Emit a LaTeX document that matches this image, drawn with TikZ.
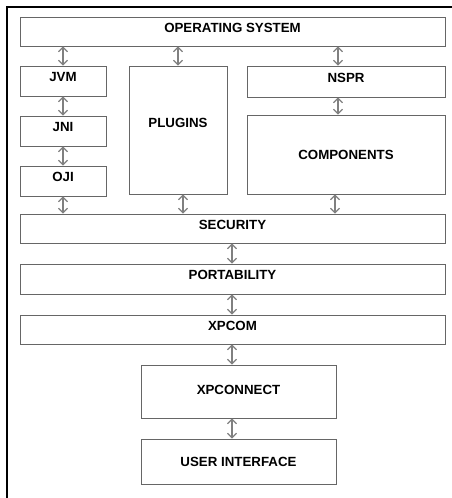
\documentclass[tikz,border=0pt]{standalone}
\usepackage{fontspec}
\setmainfont{Liberation Sans}
\usetikzlibrary{arrows.meta}

\begin{document}
\begin{tikzpicture}[x=1pt,y=-1pt,
		layer/.style={draw=black!60,line width=0.9pt,inner sep=0pt,
			font=\bfseries\fontsize{13.3}{15}\selectfont,
			text height=9.5pt,text depth=8pt},
		link/.style={draw=black!50,line width=1.2pt,
			{Straight Barb[length=4.5pt,width=9pt]}-{Straight Barb[length=4.5pt,width=9pt]}}]
		\useasboundingbox (0,0) rectangle (452,498);
		\draw[line width=2pt] (7,498) -- (7,7) -- (452,7);
		\node[layer,minimum width=425pt,minimum height=29pt](os) at (232.5,31.5){OPERATING SYSTEM};
		\node[layer,minimum width=86pt,minimum height=30pt](jvm) at (63,81){JVM};
		\node[layer,minimum width=86pt,minimum height=30pt](jni) at (63,131){JNI};
		\node[layer,minimum width=86pt,minimum height=30pt](oji) at (63,181){OJI};
		\node[layer,minimum width=98pt,minimum height=128pt,text depth=15pt](plugins) at (178,130){PLUGINS};
		\node[layer,minimum width=198pt,minimum height=31pt](nspr) at (346,81.5){NSPR};
		\node[layer,minimum width=198pt,minimum height=79pt,text depth=0pt](components) at (346,154.5){COMPONENTS};
		\node[layer,minimum width=425pt,minimum height=29pt](security) at (232.5,228.5){SECURITY};
		\node[layer,minimum width=425pt,minimum height=30pt](portability) at (232.5,279){PORTABILITY};
		\node[layer,minimum width=425pt,minimum height=29pt](xpcom) at (232.5,329.5){XPCOM};
		\node[layer,minimum width=195pt,minimum height=53pt,text depth=3pt](xpconnect) at (238.5,391.5){XPCONNECT};
		\node[layer,minimum width=195pt,minimum height=45pt,text depth=0pt](ui) at (238.5,461.5){USER INTERFACE};
		\draw[link] (os.south -| jvm.north) -- (jvm.north);
		\draw[link] (jvm) -- (jni);
		\draw[link] (jni) -- (oji);
		\draw[link] (oji.south) -- (oji.south |- security.north);
		\draw[link] (plugins.north |- os.south) -- (plugins.north);
		\draw[link] ([xshift=5pt]plugins.south) -- ([xshift=5pt]plugins.south |- security.north);
		\draw[link] ([xshift=-8pt]nspr.north |- os.south) -- ([xshift=-8pt]nspr.north);
		\draw[link] ([xshift=-8pt]nspr.south) -- ([xshift=-8pt]components.north);
		\draw[link] ([xshift=-11pt]components.south) -- ([xshift=-11pt]components.south |- security.north);
		\draw[link] ([xshift=-0.5pt]security.south) -- ([xshift=-0.5pt]portability.north);
		\draw[link] ([xshift=-0.5pt]portability.south) -- ([xshift=-0.5pt]xpcom.north);
		\draw[link] ([xshift=-6.5pt]xpconnect.north |- xpcom.south) -- ([xshift=-6.5pt]xpconnect.north);
		\draw[link] ([xshift=-6.5pt]xpconnect.south) -- ([xshift=-6.5pt]ui.north);
	\end{tikzpicture}
\end{document}
